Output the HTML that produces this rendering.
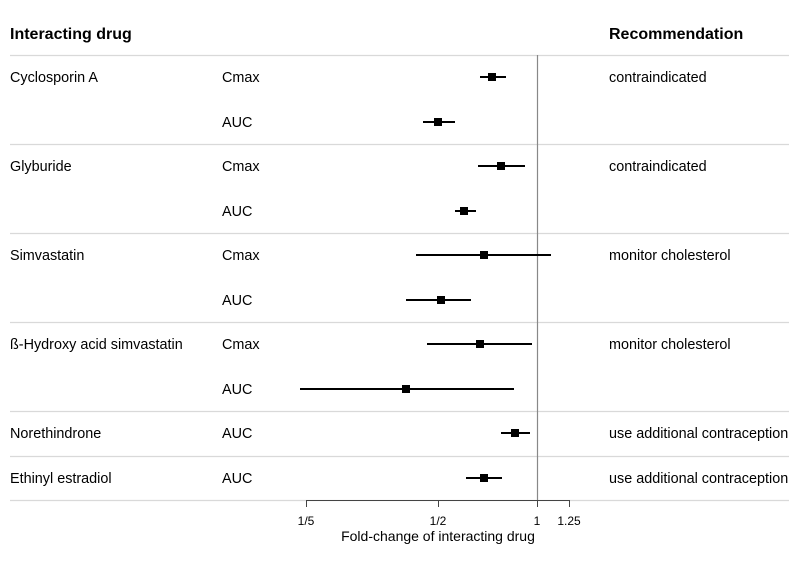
<!DOCTYPE html>
<html><head><meta charset="utf-8"><style>
html,body{margin:0;padding:0;background:#fff}
svg{display:block}
text{font-family:"Liberation Sans",Arial,sans-serif;font-size:14.4px;fill:#000}
.b{font-weight:bold;font-size:16px}
.s{font-size:12px}
.t{font-size:14px}
</style></head><body>
<svg width="800" height="562" viewBox="0 0 800 562">
<text x="10" y="39" class="b">Interacting drug</text>
<text x="609" y="39" class="b">Recommendation</text>
<g stroke="#d9d9d9" stroke-width="1.2">
<line x1="10" x2="789" y1="55.5" y2="55.5"/>
<line x1="10" x2="789" y1="144.5" y2="144.5"/>
<line x1="10" x2="789" y1="233.5" y2="233.5"/>
<line x1="10" x2="789" y1="322.5" y2="322.5"/>
<line x1="10" x2="789" y1="411.5" y2="411.5"/>
<line x1="10" x2="789" y1="456.5" y2="456.5"/>
<line x1="10" x2="789" y1="500.5" y2="500.5"/>
</g>
<line x1="537.5" x2="537.5" y1="55" y2="500" stroke="#888" stroke-width="1.2"/>
<g>
<text x="10" y="82">Cyclosporin A</text>
<text x="10" y="171">Glyburide</text>
<text x="10" y="260">Simvastatin</text>
<text x="10" y="349">ß-Hydroxy acid simvastatin</text>
<text x="10" y="438">Norethindrone</text>
<text x="10" y="483">Ethinyl estradiol</text>
<text x="222" y="82">Cmax</text><text x="222" y="127">AUC</text>
<text x="222" y="171">Cmax</text><text x="222" y="216">AUC</text>
<text x="222" y="260">Cmax</text><text x="222" y="305">AUC</text>
<text x="222" y="349">Cmax</text><text x="222" y="394">AUC</text>
<text x="222" y="438">AUC</text><text x="222" y="483">AUC</text>
<text x="609" y="82">contraindicated</text>
<text x="609" y="171">contraindicated</text>
<text x="609" y="260">monitor cholesterol</text>
<text x="609" y="349">monitor cholesterol</text>
<text x="609" y="438">use additional contraception</text>
<text x="609" y="483">use additional contraception</text>
</g>
<g stroke="#000" stroke-width="2">
<line x1="480" x2="506" y1="77" y2="77"/>
<line x1="423" x2="455" y1="122" y2="122"/>
<line x1="478" x2="525" y1="166" y2="166"/>
<line x1="455" x2="476" y1="211" y2="211"/>
<line x1="416" x2="551" y1="255" y2="255"/>
<line x1="406" x2="471" y1="300" y2="300"/>
<line x1="427" x2="532" y1="344" y2="344"/>
<line x1="300" x2="514" y1="389" y2="389"/>
<line x1="501" x2="530" y1="433" y2="433"/>
<line x1="466" x2="502" y1="478" y2="478"/>
</g>
<g fill="#000">
<rect x="488" y="73" width="8" height="8"/>
<rect x="434" y="118" width="8" height="8"/>
<rect x="497" y="162" width="8" height="8"/>
<rect x="460" y="207" width="8" height="8"/>
<rect x="480" y="251" width="8" height="8"/>
<rect x="437" y="296" width="8" height="8"/>
<rect x="476" y="340" width="8" height="8"/>
<rect x="402" y="385" width="8" height="8"/>
<rect x="511" y="429" width="8" height="8"/>
<rect x="480" y="474" width="8" height="8"/>
</g>
<g stroke="#444" stroke-width="1">
<line x1="306" x2="569" y1="500.5" y2="500.5"/>
<line x1="306.5" x2="306.5" y1="500" y2="507"/>
<line x1="438.5" x2="438.5" y1="500" y2="507"/>
<line x1="537.5" x2="537.5" y1="500" y2="507"/>
<line x1="569.5" x2="569.5" y1="500" y2="507"/>
</g>
<text x="306" y="525" class="s" text-anchor="middle">1/5</text>
<text x="438" y="525" class="s" text-anchor="middle">1/2</text>
<text x="537" y="525" class="s" text-anchor="middle">1</text>
<text x="569" y="525" class="s" text-anchor="middle">1.25</text>
<text x="438" y="541" class="t" text-anchor="middle">Fold-change of interacting drug</text>
</svg>
</body></html>
